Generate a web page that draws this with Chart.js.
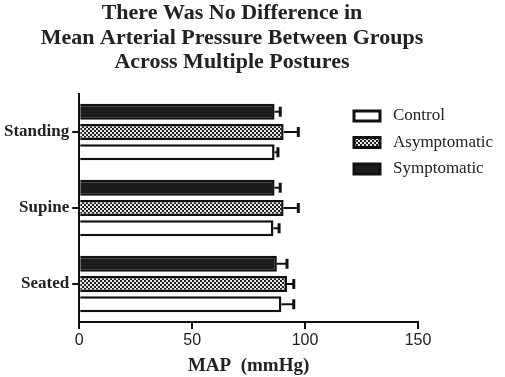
<!DOCTYPE html>
<html>
<head>
<meta charset="utf-8">
<script src="https://cdn.jsdelivr.net/npm/chart.js@4/dist/chart.umd.min.js"></script>
<style>
html,body{margin:0;padding:0;background:#fff;}
#wrap{width:505px;height:377px;}
</style>
</head>
<body>
<div id="wrap"><canvas id="c" width="505" height="377"></canvas></div>
<script>
// ---- data ----
const categories = ["Standing", "Supine", "Seated"];
const controlMean = [86.5, 86, 89.5];
const controlErr = [1.5, 2.5, 5.5];
const asymptomaticMean = [90.5, 90.5, 92];
const asymptomaticErr = [6.5, 6.5, 3];
const symptomaticMean = [86.5, 86.5, 87.5];
const symptomaticErr = [2.5, 2.5, 4.5];
const xTicks = [0, 50, 100, 150];
const titleLines = ["There Was No Difference in", "Mean Arterial Pressure Between Groups", "Across Multiple Postures"];
const xTitle = "MAP  (mmHg)";

// checkered pattern
function makePattern() {
  const p = document.createElement('canvas');
  p.width = 4; p.height = 4;
  const g = p.getContext('2d');
  g.fillStyle = '#e8e8e8'; g.fillRect(0, 0, 4, 4);
  g.fillStyle = '#222';
  g.fillRect(0, 0, 2, 2); g.fillRect(2, 2, 2, 2);
  return g.createPattern(p, 'repeat');
}
const ctx = document.getElementById('c').getContext('2d');
const checker = makePattern();

const datasets = [
  {label: "Symptomatic", data: symptomaticMean, err: symptomaticErr, backgroundColor: '#1c1c1c', borderColor: '#111', borderWidth: 2.5, legendOrder: 2},
  {label: "Asymptomatic", data: asymptomaticMean, err: asymptomaticErr, backgroundColor: checker, borderColor: '#111', borderWidth: 2.5, legendOrder: 1},
  {label: "Control", data: controlMean, err: controlErr, backgroundColor: '#fff', borderColor: '#111', borderWidth: 2.5, legendOrder: 0}
];

const errorBars = {
  id: 'errorBars',
  afterDatasetsDraw(chart) {
    const c = chart.ctx, xs = chart.scales.x;
    chart.data.datasets.forEach((ds, di) => {
      const meta = chart.getDatasetMeta(di);
      meta.data.forEach((bar, i) => {
        const xe = xs.getPixelForValue(ds.data[i] + ds.err[i]);
        c.save();
        c.strokeStyle = '#111';
        c.lineWidth = 2;
        c.beginPath(); c.moveTo(bar.x, bar.y); c.lineTo(xe, bar.y); c.stroke();
        c.lineWidth = 3;
        c.beginPath(); c.moveTo(xe, bar.y - 5); c.lineTo(xe, bar.y + 5); c.stroke();
        c.restore();
      });
    });
  }
};

const customLegend = {
  id: 'customLegend',
  afterDraw(chart) {
    const c = chart.ctx;
    const items = chart.data.datasets.slice().sort((a, b) => a.legendOrder - b.legendOrder);
    const x0 = chart.chartArea.right - 64, y0 = chart.chartArea.top + 22;
    items.forEach((ds, k) => {
      const y = y0 + k * 26.5;
      c.save();
      c.fillStyle = ds.backgroundColor;
      c.strokeStyle = '#111';
      c.lineWidth = 3;
      c.fillRect(x0, y - 5, 26, 10);
      c.strokeRect(x0, y - 5, 26, 10);
      c.fillStyle = '#222';
      c.font = '17px "Liberation Serif", serif';
      c.textBaseline = 'middle';
      c.fillText(ds.label, x0 + 39, y);
      c.restore();
    });
  }
};

const centeredTitle = {
  id: 'centeredTitle',
  afterDraw(chart) {
    const c = chart.ctx;
    c.save();
    c.fillStyle = '#222';
    c.font = 'bold 22px "Liberation Serif", serif';
    c.textAlign = 'center';
    c.textBaseline = 'alphabetic';
    titleLines.forEach((t, i) => c.fillText(t, 232, 19 + i * 24.5));
    c.restore();
  }
};

new Chart(ctx, {
  type: 'bar',
  data: {labels: categories, datasets: datasets},
  plugins: [errorBars, customLegend, centeredTitle],
  options: {
    responsive: false,
    animation: false,
    indexAxis: 'y',
    devicePixelRatio: 1,
    layout: {padding: {left: 1, right: 87, top: 94, bottom: 0}},
    categoryPercentage: 0.8,
    barPercentage: 0.8,
    plugins: {
      legend: {display: false},
      tooltip: {enabled: false},
      title: {display: false}
    },
    scales: {
      x: {
        min: 0, max: 150,
        afterBuildTicks(axis) { axis.ticks = xTicks.map(v => ({value: v})); },
        ticks: {color: '#222', font: {family: '"Liberation Sans", Arial, sans-serif', size: 16}, padding: 2},
        grid: {display: true, drawOnChartArea: false, drawTicks: true, tickLength: 7, color: '#111', lineWidth: 2},
        border: {display: true, color: '#111', width: 2},
        title: {display: true, text: xTitle, color: '#222', font: {family: '"Liberation Serif", serif', size: 19, weight: 'bold'}, padding: {top: 2, bottom: 0}}
      },
      y: {
        offset: true,
        ticks: {color: '#222', font: {family: '"Liberation Serif", serif', size: 17, weight: 'bold'}, padding: 3},
        grid: {display: true, offset: false, drawOnChartArea: false, drawTicks: true, tickLength: 7, color: '#111', lineWidth: 2},
        border: {display: true, color: '#111', width: 2}
      }
    }
  }
});
</script>
</body>
</html>
